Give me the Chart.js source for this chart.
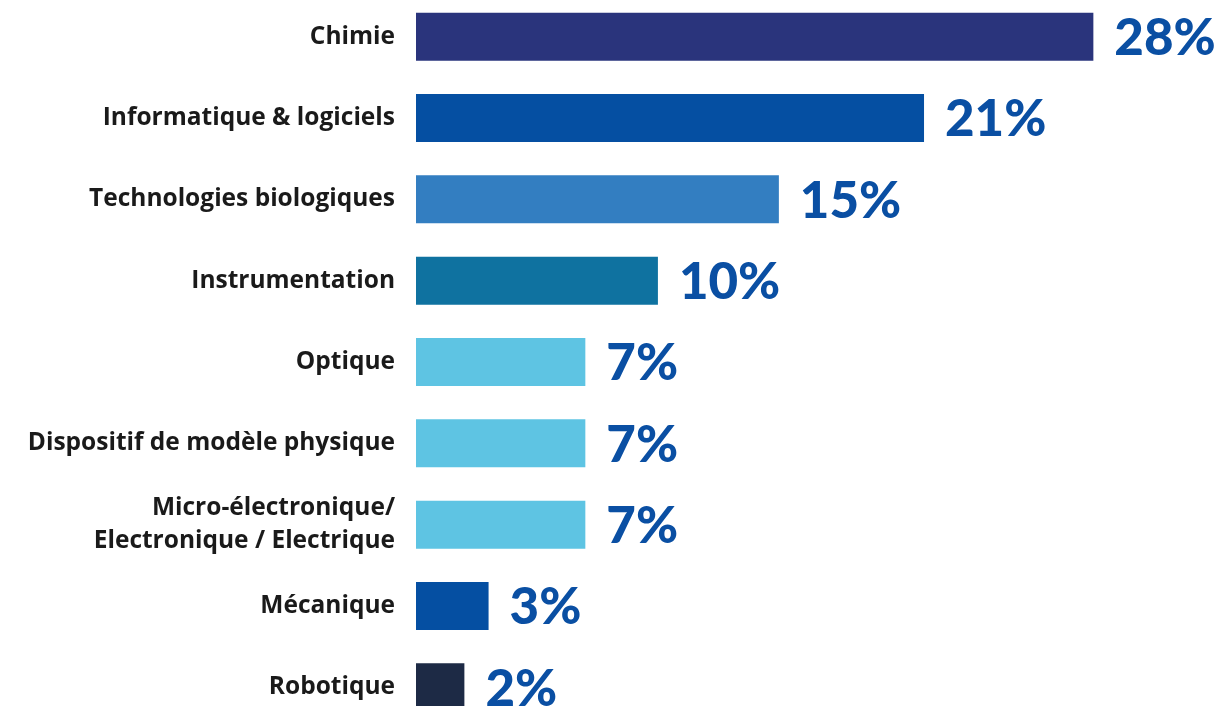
<!DOCTYPE html>
<html lang="fr">
<head>
<meta charset="utf-8">
<title>Répartition par domaine technologique</title>
<script src="https://cdn.jsdelivr.net/npm/chart.js@4.4.1/dist/chart.umd.min.js"></script>
<style>
  html, body { margin: 0; padding: 0; background: #ffffff; overflow: hidden; }
  body { width: 1224px; height: 706px; position: relative; }
  #wrap { position: absolute; left: 0; top: -4px; width: 1224px; height: 732px; }
</style>
</head>
<body>
<div id="wrap"><canvas id="chart"></canvas></div>
<script>
// Domaines technologiques et part de chacun (%)
const categories = [
  'Chimie',
  'Informatique & logiciels',
  'Technologies biologiques',
  'Instrumentation',
  'Optique',
  'Dispositif de modèle physique',
  ['Micro-électronique/', 'Electronique / Electrique'],
  'Mécanique',
  'Robotique'
];
const shares = [28, 21, 15, 10, 7, 7, 7, 3, 2];
const barColors = [
  '#2a347c', '#054fa2', '#337ec1', '#0f72a0',
  '#5ec4e3', '#5ec4e3', '#5ec4e3', '#054fa2', '#1d2a45'
];

// Écrit la valeur en pourcentage au bout de chaque barre
const valueLabels = {
  id: 'valueLabels',
  afterDatasetsDraw(chart) {
    const ctx = chart.ctx;
    const meta = chart.getDatasetMeta(0);
    ctx.save();
    ctx.fillStyle = '#0a4fa3';
    ctx.font = '900 51px Lato, "Open Sans", sans-serif';
    ctx.textAlign = 'left';
    ctx.textBaseline = 'middle';
    meta.data.forEach((bar, i) => {
      ctx.fillText(shares[i] + '%', bar.x + 21, bar.y + 2);
    });
    ctx.restore();
  }
};

new Chart(document.getElementById('chart'), {
  type: 'bar',
  data: {
    labels: categories,
    datasets: [{
      data: shares,
      backgroundColor: barColors,
      borderWidth: 0,
      categoryPercentage: 1,
      barPercentage: 0.59
    }]
  },
  options: {
    indexAxis: 'y',
    responsive: true,
    maintainAspectRatio: false,
    animation: false,
    layout: { padding: 0 },
    plugins: {
      legend: { display: false },
      tooltip: { enabled: false }
    },
    scales: {
      x: {
        display: false,
        min: 0,
        max: 33.4
      },
      y: {
        grid: { display: false, drawTicks: false },
        border: { display: false },
        afterFit(scale) {
          // axe des catégories : largeur fixe, sans marge verticale
          scale.width = 416;
          scale.paddingTop = 0;
          scale.paddingBottom = 0;
        },
        ticks: {
          padding: 21,
          color: '#1a1a1a',
          font: { family: '"Open Sans", sans-serif', size: 24.5, weight: 'bold', lineHeight: 1.35 }
        }
      }
    }
  },
  plugins: [valueLabels]
});
</script>
</body>
</html>
